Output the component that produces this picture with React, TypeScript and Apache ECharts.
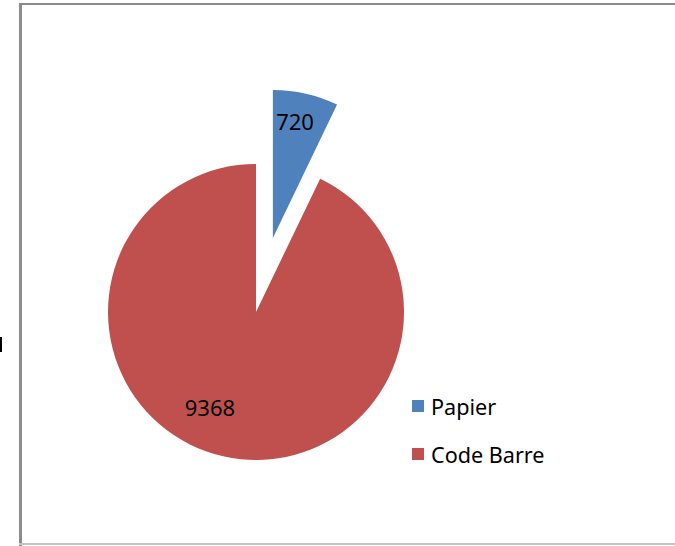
import React, { useEffect, useRef } from "react";
import * as echarts from "echarts";

const categories = ["Papier", "Code Barre"];
const values = [720, 9368];
const colors = ["#4F81BD", "#C0504D"];
const labelNudge = [
  [5, -42],
  [-29, 20],
];

export default function App() {
  const ref = useRef<HTMLDivElement>(null);
  useEffect(() => {
    document.body.style.margin = "0";
    const chart = echarts.init(ref.current!, null, { renderer: "svg" });
    const font = "'Noto Sans', 'Open Sans', sans-serif";
    chart.setOption({
      animation: false,
      backgroundColor: "#ffffff",
      legend: {
        orient: "vertical",
        left: 412,
        top: 395,
        padding: 0,
        itemWidth: 12,
        itemHeight: 12,
        itemGap: 26,
        icon: "rect",
        selectedMode: false,
        textStyle: { fontFamily: font, fontSize: 21.6, color: "#000", lineHeight: 22, padding: [0, 0, 0, 2] },
        data: categories,
      },
      graphic: [
        { type: "rect", shape: { x: 19, y: 3, width: 3, height: 543 }, style: { fill: "#8c8c8c" }, silent: true },
        { type: "rect", shape: { x: 19, y: 3, width: 660, height: 2 }, style: { fill: "#8c8c8c" }, silent: true },
        { type: "rect", shape: { x: 19, y: 543, width: 660, height: 2 }, style: { fill: "#c4c4c4" }, silent: true },
        { type: "rect", shape: { x: 0, y: 337, width: 2, height: 15 }, style: { fill: "#000" }, silent: true },
      ],
      series: [
        {
          type: "pie",
          center: [256, 312],
          radius: 148,
          startAngle: 90,
          clockwise: true,
          selectedMode: "single",
          selectedOffset: 76,
          avoidLabelOverlap: false,
          label: {
            show: true,
            position: "inside",
            formatter: "{c}",
            color: "#000",
            fontFamily: font,
            fontSize: 22,
          },
          labelLine: { show: false },
          labelLayout: (p: any) => ({ dx: labelNudge[p.dataIndex][0], dy: labelNudge[p.dataIndex][1] }),
          emphasis: { disabled: true },
          itemStyle: { borderWidth: 0 },
          data: categories.map((name, i) => ({
            name,
            value: values[i],
            selected: i === 0,
            itemStyle: { color: colors[i] },
          })),
        },
      ],
    });
    return () => chart.dispose();
  }, []);
  return <div ref={ref} style={{ position: "absolute", left: 0, top: 0, width: 675, height: 546 }} />;
}
